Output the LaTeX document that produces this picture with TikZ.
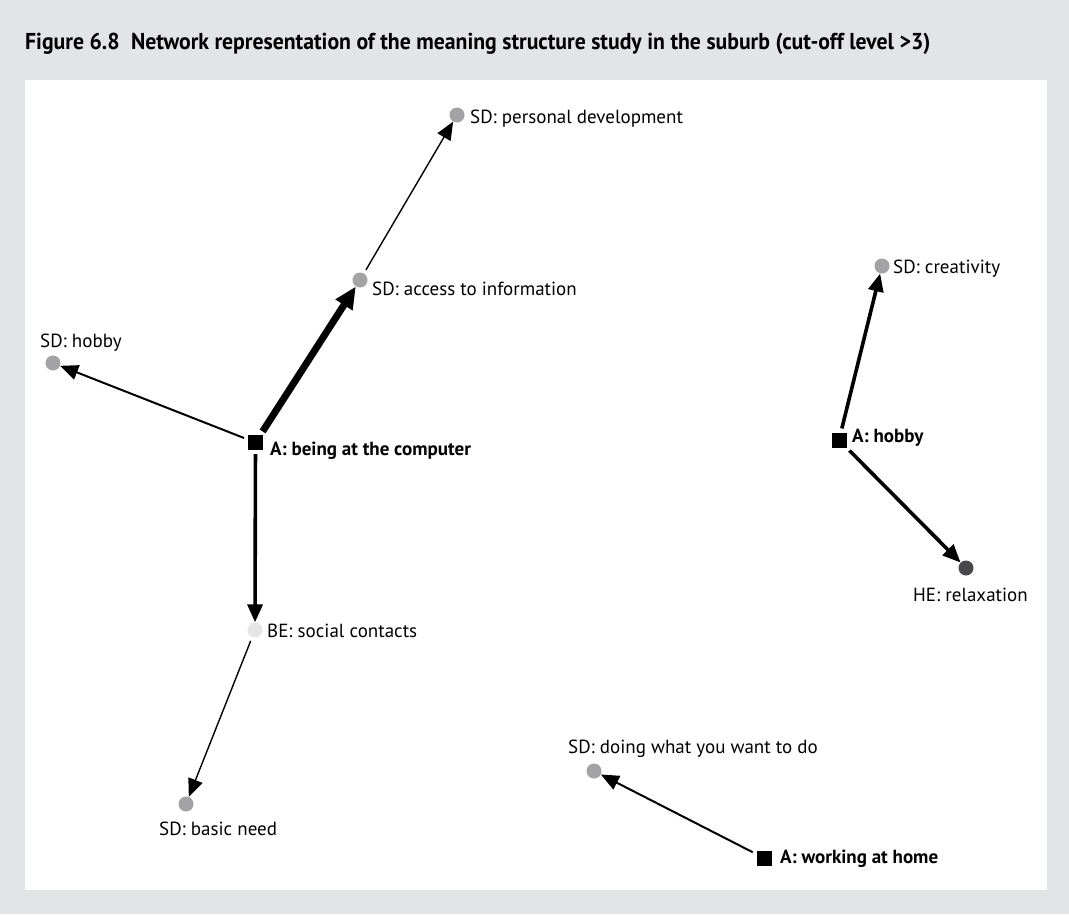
\documentclass[tikz,border=0pt]{standalone}
\usepackage{fontspec}
\setmainfont{PT Sans}
\newfontfamily\titlefont[FakeStretch=0.945]{PT Sans}
\usetikzlibrary{arrows.meta}
\definecolor{pagegray}{HTML}{E3E4E6}
\definecolor{sdgray}{HTML}{A3A3A5}
\definecolor{begray}{HTML}{E6E6E6}
\definecolor{hegray}{HTML}{48484A}
\tikzset{
  actbox/.style={rectangle, fill=black, minimum size=15pt, inner sep=0pt},
  sddot/.style={circle, fill=sdgray, minimum size=15pt, inner sep=0pt},
  bedot/.style={circle, fill=begray, minimum size=15pt, inner sep=0pt},
  hedot/.style={circle, fill=hegray, minimum size=15pt, inner sep=0pt},
  lbl/.style={anchor=base west, inner sep=0pt, font=\fontsize{19}{22}\selectfont},
  albl/.style={lbl, font=\fontsize{19}{22}\selectfont\bfseries},
  link/.style={-{Triangle[length=18pt,width=15pt]}, shorten <=4pt},
  hair/.style={link, line width=1.4pt},
  thin/.style={link, line width=2pt},
  mid/.style={link, line width=3.6pt},
  heavy/.style={-{Triangle[length=22pt,width=19pt]}, shorten <=4pt, line width=7pt},
}
\begin{document}
\begin{tikzpicture}[x=1pt, y=-1pt]
  % page and panel
  \fill[pagegray] (0,0) rectangle (1069,914);
  \useasboundingbox (0,0) rectangle (1069,914);
  \fill[white] (25,80) rectangle (1047,890);
  \node[anchor=base west, inner sep=0pt, font=\titlefont\fontsize{23}{26}\selectfont\bfseries] (title) at (25,49)
    {Figure 6.8\hspace{0.5em}Network representation of the meaning structure study in the suburb (cut-off level >3)};

  % nodes
  \node[actbox] (comp) at (255.5,442.5) {};
  \node[sddot] (acc) at (360,280) {};
  \node[sddot] (pers) at (457,115) {};
  \node[sddot] (shob) at (53,363) {};
  \node[bedot] (soc) at (255,630) {};
  \node[sddot] (basic) at (186,804) {};
  \node[actbox] (ahob) at (839,440) {};
  \node[sddot] (crea) at (882,266) {};
  \node[hedot] (relax) at (966,568) {};
  \node[actbox] (work) at (764,858) {};
  \node[sddot] (doing) at (594,771) {};

  % labels
  \node[albl] (compT) at (270,455) {A: being at the computer};
  \node[lbl] (accT) at (372,295) {SD: access to information};
  \node[lbl] (persT) at (470,123) {SD: personal development};
  \node[lbl] (shobT) at (40,347) {SD: hobby};
  \node[lbl] (socT) at (267,637) {BE: social contacts};
  \node[lbl] (basicT) at (159,835) {SD: basic need};
  \node[albl] (ahobT) at (852,442) {A: hobby};
  \node[lbl] (creaT) at (893,273) {SD: creativity};
  \node[lbl] (relaxT) at (913,601) {HE: relaxation};
  \node[albl] (workT) at (780,863) {A: working at home};
  \node[lbl] (doingT) at (568,753) {SD: doing what you want to do};

  % links
  \draw[heavy] (comp) -- (acc);
  \draw[hair] (acc) -- (pers);
  \draw[thin] (comp) -- (shob);
  \draw[mid] (comp) -- (soc);
  \draw[hair] (soc) -- (basic);
  \draw[mid] (ahob) -- (crea);
  \draw[mid] (ahob) -- (relax);
  \draw[thin] (work) -- (doing);
\end{tikzpicture}
\end{document}
